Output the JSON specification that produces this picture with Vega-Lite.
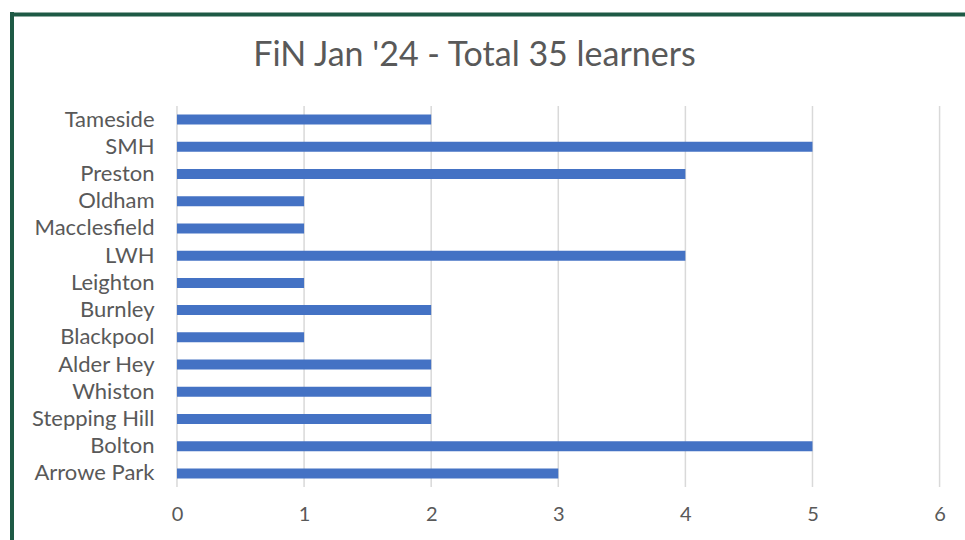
{
  "$schema": "https://vega.github.io/schema/vega-lite/v6.json",
  "width": 953,
  "height": 526,
  "autosize": "none",
  "padding": {"left": 12, "top": 14, "right": 0, "bottom": 0},
  "background": "white",
  "title": {
    "text": "FiN Jan '24 - Total 35 learners",
    "anchor": "middle",
    "frame": "group",
    "dx": -14,
    "offset": -89,
    "baseline": "alphabetic",
    "font": "Lato",
    "fontSize": 34,
    "fontWeight": "normal",
    "color": "#595959"
  },
  "config": {"view": {"stroke": null}},
  "resolve": {"axis": {"x": "independent", "y": "independent"}},
  "layer": [
    {
      "data": {"values": [{"t": 0}, {"t": 1}, {"t": 2}, {"t": 3}, {"t": 4}, {"t": 5}, {"t": 6}]},
      "mark": {"type": "rule", "color": "#d9d9d9", "strokeWidth": 1.5},
      "encoding": {
        "x": {"field": "t", "type": "quantitative", "axis": null,
              "scale": {"domain": [-1.298, 6.2], "nice": false, "zero": false}},
        "y": {"datum": "Tameside", "type": "nominal", "bandPosition": -0.858, "axis": null},
        "y2": {"datum": "Arrowe Park", "bandPosition": 1.858}
      }
    },
    {
      "data": {"values": [
        {"name": "Tameside", "value": 2},
        {"name": "SMH", "value": 5},
        {"name": "Preston", "value": 4},
        {"name": "Oldham", "value": 1},
        {"name": "Macclesfield", "value": 1},
        {"name": "LWH", "value": 4},
        {"name": "Leighton", "value": 1},
        {"name": "Burnley", "value": 2},
        {"name": "Blackpool", "value": 1},
        {"name": "Alder Hey", "value": 2},
        {"name": "Whiston", "value": 2},
        {"name": "Stepping Hill", "value": 2},
        {"name": "Bolton", "value": 5},
        {"name": "Arrowe Park", "value": 3}
      ]},
      "mark": {"type": "bar", "color": "#4472c4"},
      "encoding": {
        "x": {"field": "value", "type": "quantitative",
              "scale": {"domain": [-1.298, 6.2], "nice": false, "zero": false},
              "axis": {"orient": "bottom", "offset": -36, "values": [0, 1, 2, 3, 4, 5, 6], "grid": false, "domain": false, "ticks": false, "tickSize": 0, "labelPadding": 0, "labelFont": "Lato", "labelFontSize": 20, "labelColor": "#595959", "title": null}},
        "y": {"field": "name", "type": "nominal",
              "sort": ["Tameside", "SMH", "Preston", "Oldham", "Macclesfield", "LWH", "Leighton", "Burnley", "Blackpool", "Alder Hey", "Whiston", "Stepping Hill", "Bolton", "Arrowe Park"],
              "scale": {"range": [92, 473], "paddingInner": 0.632, "paddingOuter": 0.316},
              "axis": {"orient": "left", "offset": -147, "domain": false, "ticks": false, "tickSize": 0, "labelPadding": 5, "labelFont": "Lato", "labelFontSize": 22, "labelColor": "#595959", "title": null, "grid": false}}
      }
    },
    {
      "data": {"values": [{}]},
      "mark": {"type": "rule", "color": "#1e5a45", "strokeWidth": 4, "strokeCap": "square"},
      "encoding": {
        "x": {"datum": -1.298, "type": "quantitative",
              "scale": {"domain": [-1.298, 6.2], "nice": false, "zero": false},
              "axis": {"orient": "top", "domain": true, "domainColor": "#1e5a45", "domainWidth": 4, "labels": false, "ticks": false, "grid": false, "title": null}}
      }
    }
  ]
}
